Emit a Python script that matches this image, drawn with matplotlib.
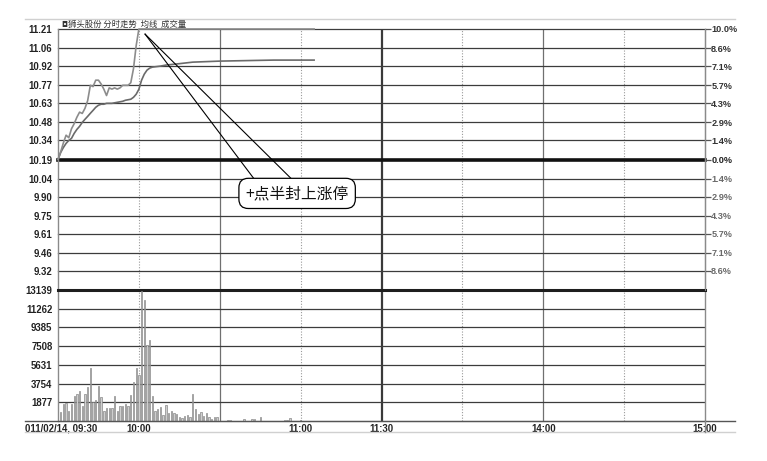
import matplotlib
matplotlib.use("Agg")
import matplotlib.pyplot as plt
from matplotlib.lines import Line2D
from matplotlib.transforms import ScaledTranslation

# ---------------- data ----------------
# minutes after 09:30 (trading-time axis, 240 minutes)
price_minutes = [0, 1, 2, 3, 4, 5, 6, 7, 8, 9, 10, 11, 12, 13, 14, 15, 16, 17, 18, 19, 20,
                 21, 22, 23, 24, 25, 26, 27, 28, 29, 30, 95]
price_values = [10.19, 10.25, 10.32, 10.38, 10.36, 10.43, 10.47, 10.52, 10.56, 10.55, 10.59,
                10.65, 10.77, 10.76, 10.81, 10.81, 10.78, 10.74, 10.69, 10.75, 10.74,
                10.75, 10.74, 10.75, 10.77, 10.77, 10.77, 10.79, 10.90, 11.08, 11.21, 11.21]

avg_minutes = [0, 1, 2, 3, 4, 5, 6, 7, 8, 9, 10, 11, 12, 13, 14, 15, 16, 17, 18, 19, 20,
               21, 22, 23, 24, 25, 26, 27, 28, 29, 30, 31, 32, 33, 34, 35, 38, 40, 45, 50,
               55, 60, 70, 80, 95]
avg_values = [10.190, 10.245, 10.284, 10.316, 10.339, 10.355, 10.394, 10.425, 10.449, 10.480,
              10.504, 10.527, 10.551, 10.574, 10.598, 10.614, 10.622, 10.622, 10.629, 10.629,
              10.629, 10.633, 10.637, 10.641, 10.645, 10.653, 10.657, 10.661, 10.676, 10.700,
              10.739, 10.810, 10.857, 10.888, 10.904, 10.912, 10.920, 10.928, 10.939, 10.951,
              10.955, 10.959, 10.963, 10.967, 10.967]

volume_minutes = list(range(1, 60)) + [63, 64, 69, 72, 73, 75, 84, 85, 86, 90]
volume_values = [870, 1670, 1840, 1030, 1670, 2540, 2680, 3040, 1540, 2680,
                 3380, 5290, 1940, 2070, 3510, 2440, 1000, 1270, 1270, 1270,
                 2540, 1000, 1470, 1540, 1670, 1540, 2610, 3940, 5290, 4650,
                 13040, 12140, 7620, 8120, 2510, 1000, 1200, 1440, 600, 1600,
                 770, 1030, 840, 670, 430, 330, 500, 600, 430, 2680,
                 1200, 670, 930, 500, 770, 430, 200, 430, 430,
                 130, 130, 250, 170, 200, 400, 150, 150, 330, 100]

prev_close = 10.19
price_ticks = [11.21, 11.06, 10.92, 10.77, 10.63, 10.48, 10.34, 10.19,
               10.04, 9.90, 9.75, 9.61, 9.46, 9.32]
price_tick_labels = ["11.21", "11.06", "10.92", "10.77", "10.63", "10.48", "10.34", "10.19",
                     "10.04", "9.90", "9.75", "9.61", "9.46", "9.32"]
pct_labels = ["10.0%", "8.6%", "7.1%", "5.7%", "4.3%", "2.9%", "1.4%", "0.0%",
              "1.4%", "2.9%", "4.3%", "5.7%", "7.1%", "8.6%"]
price_bottom = 9.17

volume_ticks = [1877, 3754, 5631, 7508, 9385, 11262, 13139]
volume_tick_labels = ["1877", "3754", "5631", "7508", "9385", "11262", "13139"]

time_ticks = [0, 30, 90, 120, 180, 240]
time_tick_labels = ["011/02/14, 09:30", "10:00", "11:00", "11:30", "14:00", "15:00"]
vgrid_dotted = [30, 90, 150, 210]
vgrid_solid = [60, 180]
vgrid_bold = [120]

title_text = "狮头股份 分时走势  均线  成交量"
callout_text = "+点半封上涨停"
callout_center = (88.7, 9.925)
callout_tip = (32.3, 11.17)
callout_base = [(72.5, 10.045), (86.3, 10.045)]

# ---------------- figure ----------------
W, H = 767, 461
fig = plt.figure(figsize=(W / 100, H / 100), dpi=100)
fig.patch.set_facecolor("white")

def fx(px):
    return px / W

def fy(py):
    return 1 - py / H

L, R = 58, 705
ax_p = fig.add_axes([fx(L), fy(290), (R - L) / W, (290 - 29) / H])
ax_v = fig.add_axes([fx(L), fy(421), (R - L) / W, (421 - 290) / H])

tick_font = dict(family="Liberation Sans", weight="bold", size=6.9)
cjk = ["Noto Sans CJK SC", "DejaVu Sans"]

for ax in (ax_p, ax_v):
    ax.set_xlim(0, 240)
    ax.set_facecolor("white")
    for x in vgrid_dotted:
        ax.axvline(x, color="#9a9a9a", lw=0.8, ls=(0, (1, 1.5)), zorder=1)
    for x in vgrid_solid:
        ax.axvline(x, color="#707070", lw=0.9, zorder=1)
    for x in vgrid_bold:
        ax.axvline(x, color="#3a3a3a", lw=1.6, zorder=1)
    for s in ("left", "right"):
        ax.spines[s].set_color("#8a8a8a")
        ax.spines[s].set_linewidth(1.0)

# ---- price panel ----
ax_p.set_ylim(price_bottom, price_ticks[0])
for t in price_ticks:
    if t == prev_close:
        ax_p.axhline(t, color="#111111", lw=2.6, zorder=2, clip_on=False)
    else:
        ax_p.axhline(t, color="#3c3c3c", lw=0.9, zorder=2, clip_on=False)
ax_p.spines["top"].set_visible(False)
ax_p.spines["bottom"].set_visible(False)
ax_p.plot(avg_minutes, avg_values, color="#6a6a6a", lw=1.2, zorder=4, clip_on=False)
ax_p.plot(price_minutes, price_values, color="#8c8c8c", lw=1.2, zorder=5, clip_on=False)
ax_p.set_yticks(price_ticks)
ax_p.set_yticklabels(price_tick_labels, fontdict=tick_font, color="#222222")
ax_p.tick_params(axis="y", length=0, pad=4)
ax_p.tick_params(axis="x", bottom=False, labelbottom=False)

ax_r = ax_p.twinx()
ax_r.set_ylim(price_bottom, price_ticks[0])
ax_r.set_yticks(price_ticks)
ax_r.set_yticklabels(pct_labels, fontdict=dict(family="Liberation Sans", weight="bold", size=6.6))
for i, lab in enumerate(ax_r.get_yticklabels()):
    if i < 7:
        lab.set_color("#333333")
    elif i == 7:
        lab.set_color("#222222")
    else:
        lab.set_color("#6a6a6a")
ax_r.tick_params(axis="y", length=4, width=0.9, color="#555555", pad=0.5)
for s in ("top", "bottom", "left"):
    ax_r.spines[s].set_visible(False)
ax_r.spines["right"].set_color("#8a8a8a")

# title
ax_p.text(0.005, 1.0, "◘", transform=ax_p.transAxes, fontsize=5.5, family=cjk,
          color="#333333", va="bottom", ha="left")
ax_p.text(0.016, 1.0, title_text, transform=ax_p.transAxes, fontsize=6.0, family=cjk,
          color="#333333", va="bottom", ha="left")

# callout
for bx, by in callout_base:
    ax_p.plot([callout_tip[0], bx], [callout_tip[1], by], color="black", lw=0.8,
              zorder=6, clip_on=False)
ax_p.text(callout_center[0], callout_center[1], callout_text, ha="center", va="center",
          fontsize=11.3, family=cjk, color="#111111", zorder=7,
          bbox=dict(boxstyle="round,pad=0.42,rounding_size=0.6", fc="white",
                    ec="black", lw=0.9))

# ---- volume panel ----
ax_v.set_ylim(0, volume_ticks[-1])
for t in volume_ticks[:-1]:
    ax_v.axhline(t, color="#3c3c3c", lw=0.9, zorder=2)
ax_v.bar(volume_minutes, volume_values, width=0.5, color="#cfcfcf", edgecolor="#7e7e7e",
         lw=0.45, zorder=3)
ax_v.spines["top"].set_color("#1e1e1e")
ax_v.spines["top"].set_linewidth(2.2)
ax_v.spines["bottom"].set_color("#555555")
ax_v.set_yticks(volume_ticks)
ax_v.set_yticklabels(volume_tick_labels, fontdict=tick_font, color="#222222")
ax_v.tick_params(axis="y", length=0, pad=4)
ax_v.set_xticks(time_ticks)
ax_v.set_xticklabels(time_tick_labels, fontdict=tick_font, color="#222222")
ax_v.tick_params(axis="x", length=0, pad=2)
first = ax_v.get_xticklabels()[0]
first.set_transform(first.get_transform() + ScaledTranslation(3 / 100, 0, fig.dpi_scale_trans))

# frame decorations
fig.add_artist(Line2D([fx(25), fx(735)], [fy(19), fy(19)], color="#d0d0d0", lw=1.0))
fig.add_artist(Line2D([fx(25), fx(735)], [fy(421), fy(421)], color="#555555", lw=1.0))
fig.add_artist(Line2D([fx(25), fx(735)], [fy(432), fy(432)], color="#d0d0d0", lw=1.0))
fig.add_artist(Line2D([fx(705), fx(705)], [fy(421), fy(432)], color="#8a8a8a", lw=1.0))

fig.savefig("out.png", dpi=100, facecolor="white")
